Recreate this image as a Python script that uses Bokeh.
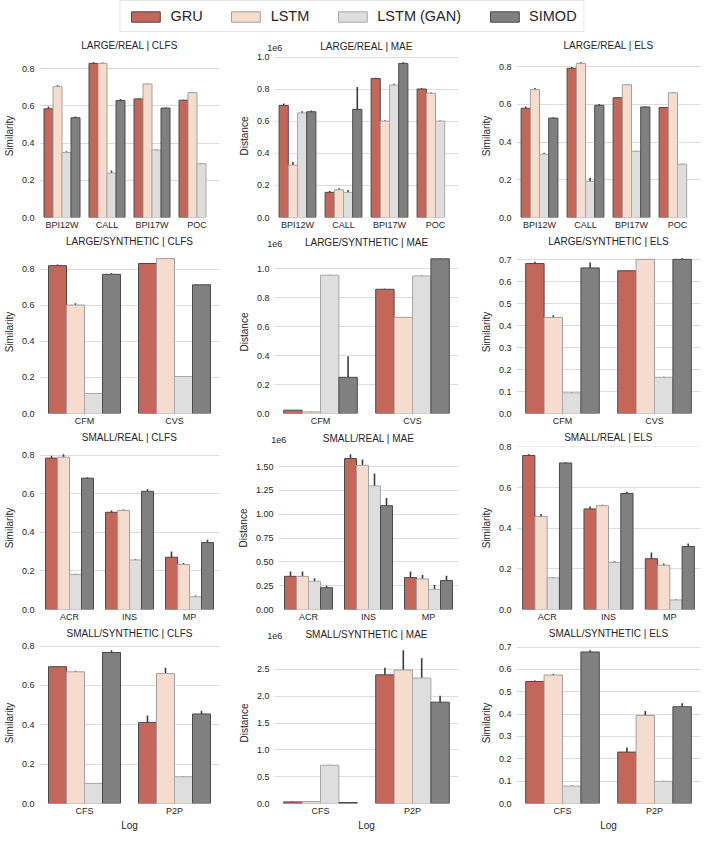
from bokeh.plotting import figure
from bokeh.models import (ColumnDataSource, Range1d, Whisker, FixedTicker, LinearAxis,
                          PrintfTickFormatter, CustomJSTickFormatter, Legend, LegendItem)
from bokeh.layouts import column, row
from bokeh.embed import file_html
from bokeh.resources import INLINE

FONT = "Liberation Sans"
TXT = "#262626"

MODELS = ["GRU", "LSTM", "LSTM (GAN)", "SIMOD"]
COLORS = ["#c4675a", "#f6dccd", "#dedede", "#808080"]
EDGES = ["#4a4a4a", "#a0a0a0", "#a8a8a8", "#4a4a4a"]

# ---------------- data ----------------
large_real_logs = ["BPI12W", "CALL", "BPI17W", "POC"]
large_synth_logs = ["CFM", "CVS"]
small_real_logs = ["ACR", "INS", "MP"]
small_synth_logs = ["CFS", "P2P"]

# LARGE/REAL | CLFS  (GRU, LSTM, LSTM (GAN), SIMOD)
lr_clfs_gru = [0.584, 0.828, 0.637, 0.630]
lr_clfs_lstm = [0.703, 0.828, 0.717, 0.671]
lr_clfs_gan = [0.349, 0.239, 0.363, 0.289]
lr_clfs_simod = [0.536, 0.628, 0.588, None]
lr_clfs_err = [[0.012, 0.006, 0.004, 0.003], [0.008, 0.005, 0.003, 0.003],
               [0.007, 0.013, 0.004, 0.003], [0.006, 0.008, 0.003, None]]

# LARGE/REAL | MAE
lr_mae_gru = [0.700e6, 0.157e6, 0.867e6, 0.802e6]
lr_mae_lstm = [0.327e6, 0.173e6, 0.602e6, 0.776e6]
lr_mae_gan = [0.653e6, 0.157e6, 0.827e6, 0.602e6]
lr_mae_simod = [0.660e6, 0.675e6, 0.962e6, None]
lr_mae_err = [[0.012e6, 0.008e6, 0.006e6, 0.005e6], [0.020e6, 0.010e6, 0.005e6, 0.005e6],
              [0.010e6, 0.015e6, 0.008e6, 0.004e6], [0.008e6, 0.140e6, 0.007e6, None]]

# LARGE/REAL | ELS
lr_els_gru = [0.579, 0.791, 0.635, 0.583]
lr_els_lstm = [0.678, 0.817, 0.704, 0.661]
lr_els_gan = [0.336, 0.191, 0.351, 0.283]
lr_els_simod = [0.527, 0.595, 0.586, None]
lr_els_err = [[0.010, 0.007, 0.003, 0.003], [0.008, 0.006, 0.003, 0.003],
              [0.007, 0.020, 0.003, 0.002], [0.005, 0.007, 0.003, None]]

# LARGE/SYNTHETIC | CLFS
ls_clfs_gru = [0.819, 0.831]
ls_clfs_lstm = [0.601, 0.858]
ls_clfs_gan = [0.111, 0.205]
ls_clfs_simod = [0.771, 0.713]
ls_clfs_err = [[0.006, 0.002], [0.010, 0.002], [0.003, 0.002], [0.006, 0.002]]

# LARGE/SYNTHETIC | MAE
ls_mae_gru = [0.023e6, 0.858e6]
ls_mae_lstm = [0.011e6, 0.664e6]
ls_mae_gan = [0.955e6, 0.950e6]
ls_mae_simod = [0.250e6, 1.068e6]
ls_mae_err = [[0.002e6, 0.004e6], [0.002e6, 0.003e6], [0.004e6, 0.004e6], [0.145e6, 0.004e6]]

# LARGE/SYNTHETIC | ELS
ls_els_gru = [0.683, 0.650]
ls_els_lstm = [0.437, 0.702]
ls_els_gan = [0.094, 0.165]
ls_els_simod = [0.663, 0.702]
ls_els_err = [[0.008, 0.002], [0.010, 0.002], [0.003, 0.002], [0.025, 0.005]]

# SMALL/REAL | CLFS
sr_clfs_gru = [0.785, 0.504, 0.271]
sr_clfs_lstm = [0.790, 0.514, 0.233]
sr_clfs_gan = [0.182, 0.257, 0.066]
sr_clfs_simod = [0.681, 0.613, 0.347]
sr_clfs_err = [[0.012, 0.010, 0.030], [0.015, 0.004, 0.008], [0.004, 0.005, 0.006], [0.005, 0.010, 0.015]]

# SMALL/REAL | MAE
sr_mae_gru = [0.348e6, 1.585e6, 0.335e6]
sr_mae_lstm = [0.348e6, 1.514e6, 0.321e6]
sr_mae_gan = [0.297e6, 1.298e6, 0.212e6]
sr_mae_simod = [0.229e6, 1.090e6, 0.304e6]
sr_mae_err = [[0.050e6, 0.045e6, 0.065e6], [0.050e6, 0.060e6, 0.040e6],
              [0.030e6, 0.130e6, 0.045e6], [0.020e6, 0.080e6, 0.050e6]]

# SMALL/REAL | ELS
sr_els_gru = [0.758, 0.495, 0.250]
sr_els_lstm = [0.458, 0.511, 0.218]
sr_els_gan = [0.156, 0.232, 0.047]
sr_els_simod = [0.721, 0.571, 0.310]
sr_els_err = [[0.006, 0.012, 0.030], [0.012, 0.004, 0.008], [0.004, 0.005, 0.004], [0.004, 0.008, 0.015]]

# SMALL/SYNTHETIC | CLFS
ss_clfs_gru = [0.695, 0.412]
ss_clfs_lstm = [0.669, 0.660]
ss_clfs_gan = [0.102, 0.136]
ss_clfs_simod = [0.767, 0.455]
ss_clfs_err = [[0.004, 0.035], [0.006, 0.030], [0.002, 0.003], [0.012, 0.016]]

# SMALL/SYNTHETIC | MAE
ss_mae_gru = [0.030e6, 2.40e6]
ss_mae_lstm = [0.036e6, 2.49e6]
ss_mae_gan = [0.714e6, 2.34e6]
ss_mae_simod = [0.018e6, 1.89e6]
ss_mae_err = [[0.005e6, 0.13e6], [0.005e6, 0.37e6], [0.010e6, 0.37e6], [0.003e6, 0.12e6]]

# SMALL/SYNTHETIC | ELS
ss_els_gru = [0.546, 0.230]
ss_els_lstm = [0.575, 0.394]
ss_els_gan = [0.078, 0.099]
ss_els_simod = [0.678, 0.433]
ss_els_err = [[0.004, 0.020], [0.005, 0.020], [0.002, 0.003], [0.008, 0.015]]

sim_ticks_02 = [0.0, 0.2, 0.4, 0.6, 0.8]
sim_ticks_01 = [0.0, 0.1, 0.2, 0.3, 0.4, 0.5, 0.6, 0.7]
mae_ticks_a = [0.0, 0.2e6, 0.4e6, 0.6e6, 0.8e6, 1.0e6]
mae_ticks_b = [0.0, 0.25e6, 0.5e6, 0.75e6, 1.0e6, 1.25e6, 1.5e6]
mae_ticks_c = [0.0, 0.5e6, 1.0e6, 1.5e6, 2.0e6, 2.5e6]

# column geometry: (width, min_border_left, min_border_right)
COLS = [(234, 33, 15), (234, 40, 10), (236, 48, 4)]


def style_axis(ax):
    ax.axis_line_color = None
    ax.major_tick_line_color = None
    ax.minor_tick_line_color = None
    ax.major_tick_out = 0
    ax.major_tick_in = 0
    ax.minor_tick_out = 0
    ax.minor_tick_in = 0
    ax.major_label_text_font = FONT
    ax.major_label_text_font_size = "9px"
    ax.major_label_text_color = TXT
    ax.axis_label_text_font = FONT
    ax.axis_label_text_font_size = "10px"
    ax.axis_label_text_font_style = "normal"
    ax.axis_label_text_color = TXT


def make_panel(title, cats, series, errs, ylabel, ticks, dec, col, bottom_row, mae):
    width, left, right = COLS[col]
    height = 209 if bottom_row else 196
    n = len(cats)
    p = figure(x_range=Range1d(0, n), width=width, height=height,
               output_backend="svg", toolbar_location=None,
               min_border_left=left, min_border_right=right,
               min_border_top=12, min_border_bottom=14)
    tops = []
    for i, vals in enumerate(series):
        xs, ys, lo, hi = [], [], [], []
        off = -0.3 + 0.2 * i
        for k, (v, e) in enumerate(zip(vals, errs[i])):
            if v is None:
                continue
            xs.append(k + 0.5 + off)
            ys.append(v)
            lo.append(v - e)
            hi.append(v + e)
        src = ColumnDataSource(dict(x=xs, top=ys, lower=lo, upper=hi))
        p.vbar(x="x", top="top", bottom=0, width=0.2,
               source=src, fill_color=COLORS[i], line_color=EDGES[i], line_width=1)
        p.add_layout(Whisker(base="x", upper="upper", lower="lower", source=src,
                             upper_head=None, lower_head=None,
                             line_color="#3c3c3c", line_width=1.6))
        tops += hi
    ymax = max(tops) * 1.05
    p.y_range = Range1d(0, ymax)

    p.xgrid.visible = False
    p.ygrid.grid_line_color = "#dcdcdc"
    p.ygrid.grid_line_width = 1
    p.outline_line_color = None

    style_axis(p.xaxis[0])
    style_axis(p.yaxis[0])
    p.xaxis.ticker = FixedTicker(ticks=[k + 0.5 for k in range(n)])
    p.xaxis.formatter = CustomJSTickFormatter(args=dict(labels=cats),
                                              code="return labels[Math.floor(tick)];")
    p.xaxis.major_label_standoff = 2
    p.yaxis.major_label_standoff = 5
    p.yaxis.axis_label = ylabel
    p.yaxis.axis_label_standoff = 4
    p.yaxis.ticker = FixedTicker(ticks=ticks)
    if mae:
        p.yaxis.formatter = CustomJSTickFormatter(code="return (tick/1e6).toFixed(%d);" % dec)
    else:
        p.yaxis.formatter = PrintfTickFormatter(format="%%.%df" % dec)
    if bottom_row:
        p.xaxis.axis_label = "Log"
        p.xaxis.axis_label_standoff = 1

    # header: the panel title (axis label) and, for distances, the 1e6 offset text
    p.extra_x_ranges = {"hdr": Range1d(-0.001, 1)}
    hdr = LinearAxis(x_range_name="hdr", axis_label=title,
                     ticker=FixedTicker(ticks=[0.0] if mae else []),
                     formatter=CustomJSTickFormatter(code="return '1e6';"))
    style_axis(hdr)
    hdr.major_label_standoff = 4
    hdr.major_label_text_align = "right"
    hdr.axis_label_standoff = -10 if mae else 4
    p.add_layout(hdr, "above")
    return p


panels = [
    [("LARGE/REAL | CLFS", large_real_logs, [lr_clfs_gru, lr_clfs_lstm, lr_clfs_gan, lr_clfs_simod], lr_clfs_err, "Similarity", sim_ticks_02, 1, False),
     ("LARGE/REAL | MAE", large_real_logs, [lr_mae_gru, lr_mae_lstm, lr_mae_gan, lr_mae_simod], lr_mae_err, "Distance", mae_ticks_a, 1, True),
     ("LARGE/REAL | ELS", large_real_logs, [lr_els_gru, lr_els_lstm, lr_els_gan, lr_els_simod], lr_els_err, "Similarity", sim_ticks_02, 1, False)],
    [("LARGE/SYNTHETIC | CLFS", large_synth_logs, [ls_clfs_gru, ls_clfs_lstm, ls_clfs_gan, ls_clfs_simod], ls_clfs_err, "Similarity", sim_ticks_02, 1, False),
     ("LARGE/SYNTHETIC | MAE", large_synth_logs, [ls_mae_gru, ls_mae_lstm, ls_mae_gan, ls_mae_simod], ls_mae_err, "Distance", mae_ticks_a, 1, True),
     ("LARGE/SYNTHETIC | ELS", large_synth_logs, [ls_els_gru, ls_els_lstm, ls_els_gan, ls_els_simod], ls_els_err, "Similarity", sim_ticks_01, 1, False)],
    [("SMALL/REAL | CLFS", small_real_logs, [sr_clfs_gru, sr_clfs_lstm, sr_clfs_gan, sr_clfs_simod], sr_clfs_err, "Similarity", sim_ticks_02, 1, False),
     ("SMALL/REAL | MAE", small_real_logs, [sr_mae_gru, sr_mae_lstm, sr_mae_gan, sr_mae_simod], sr_mae_err, "Distance", mae_ticks_b, 2, True),
     ("SMALL/REAL | ELS", small_real_logs, [sr_els_gru, sr_els_lstm, sr_els_gan, sr_els_simod], sr_els_err, "Similarity", sim_ticks_02, 1, False)],
    [("SMALL/SYNTHETIC | CLFS", small_synth_logs, [ss_clfs_gru, ss_clfs_lstm, ss_clfs_gan, ss_clfs_simod], ss_clfs_err, "Similarity", sim_ticks_02, 1, False),
     ("SMALL/SYNTHETIC | MAE", small_synth_logs, [ss_mae_gru, ss_mae_lstm, ss_mae_gan, ss_mae_simod], ss_mae_err, "Distance", mae_ticks_c, 1, True),
     ("SMALL/SYNTHETIC | ELS", small_synth_logs, [ss_els_gru, ss_els_lstm, ss_els_gan, ss_els_simod], ss_els_err, "Similarity", sim_ticks_01, 1, False)],
]

rows = []
for r, prow in enumerate(panels):
    figs = []
    for c, spec in enumerate(prow):
        title, cats, series, errs, ylabel, ticks, dec, mae = spec
        figs.append(make_panel(title, cats, series, errs, ylabel, ticks, dec, c, r == 3, mae))
    rows.append(row(*figs, spacing=0))

# ---------------- legend ----------------
lf = figure(width=704, height=36, output_backend="svg", toolbar_location=None,
            x_range=(0, 1), y_range=(0, 1), min_border=0,
            x_axis_location=None, y_axis_location=None)
lf.grid.visible = False
lf.outline_line_color = None
items = []
for i, m in enumerate(MODELS):
    # placed outside the visible range: only its legend swatch is shown
    rr = lf.vbar(x=[5], top=[1], width=0.1, fill_color=COLORS[i], line_color=EDGES[i], line_width=1)
    items.append(LegendItem(label=m, renderers=[rr]))
leg = Legend(items=items, orientation="horizontal", location="top_center", margin=0,
             padding=7, spacing=25, label_standoff=7, glyph_width=36, glyph_height=13,
             label_text_font=FONT, label_text_font_size="14.5px", label_text_color=TXT,
             label_height=14, border_line_color="#d0d0d0", border_line_width=1,
             background_fill_color="white", background_fill_alpha=1)
lf.add_layout(leg, "center")

layout = column(lf, *rows, spacing=0)

with open("out.html", "w") as f:
    f.write(file_html(layout, INLINE))
